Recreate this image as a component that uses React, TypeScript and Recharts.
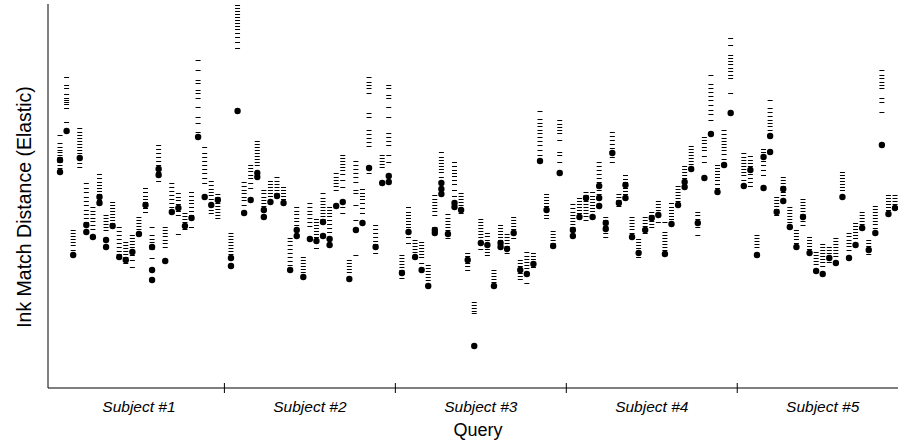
import React from 'react';
import { ScatterChart, Scatter, XAxis, YAxis } from 'recharts';

// each subject has 25 queries; one empty slot separates subjects
const subjects = ['Subject #1', 'Subject #2', 'Subject #3', 'Subject #4', 'Subject #5'];
const SLOTS = 26;

// elastic ink-match distances of the ranked candidates (dashes), per query
const s1Ranks = [
  [253, 245, 241, 238, 236, 233, 231, 226, 223, 220],
  [311, 303, 300, 294, 290, 288, 286, 284, 280, 266],
  [158, 155, 152, 149, 146, 143, 138],
  [260, 256, 253, 250, 247, 244, 241, 238, 235, 225, 221],
  [205, 200, 196, 191, 187, 183, 178, 174, 170, 166],
  [181, 177, 174, 170, 167, 163, 159],
  [214, 210, 206, 203, 200, 197, 194, 188],
  [173, 170, 167, 164, 161, 158],
  [186, 183, 180, 177, 174, 171, 168, 165],
  [161, 157, 153, 149, 145, 141, 137, 134],
  [146, 143, 140, 137, 134, 131, 125],
  [153, 150, 147, 144, 141, 138, 133, 128, 121],
  [171, 168, 165, 162, 159, 156],
  [200, 196, 192, 189, 186, 180, 176],
  [161, 153, 149, 146, 143, 139, 130],
  [243, 239, 235, 231, 227, 223, 216, 207],
  [161, 158, 155, 152, 148, 145, 141],
  [205, 201, 197, 193, 189, 185, 181],
  [195, 191, 188, 184, 177, 173, 154],
  [175, 172, 169, 166, 159],
  [196, 192, 188, 185, 181, 177, 173, 161],
  [328, 318, 308, 305, 298, 295, 290, 281, 271, 265, 256],
  [241, 235, 231, 227, 223, 219, 215, 210, 205],
  [207, 203, 199, 196, 193, 189, 178, 175],
  [194, 191, 185, 182, 179, 176, 173, 170],
];
const s2Ranks = [
  [155, 152, 149, 146, 143, 140, 137, 134],
  [383, 380, 377, 374, 371, 368, 365, 362, 359, 355, 351, 346, 340],
  [206, 202, 198, 195, 191, 188, 183],
  [223, 220, 217, 213, 210, 205, 200],
  [247, 244, 241, 238, 235, 232, 229, 226, 223],
  [198, 195, 191, 188, 185, 182],
  [207, 204, 201, 198, 195, 192],
  [211, 207, 204, 201, 198, 195],
  [201, 198, 195, 192, 189],
  [150, 147, 143, 139, 135, 131, 127, 123],
  [181, 177, 174, 170, 167, 163],
  [131, 128, 125, 122, 119, 116],
  [185, 181, 177, 174, 170, 166, 162],
  [169, 166, 163, 160, 157, 154, 151, 140],
  [195, 190, 187, 184, 181, 178, 175, 172, 169],
  [181, 178, 175, 172, 168, 164, 160, 156],
  [215, 211, 208, 205, 202, 198],
  [233, 230, 227, 224, 221, 218, 214, 208, 201, 181, 175],
  [128, 125, 122, 119, 116],
  [227, 223, 219, 215, 211, 206, 198, 195, 183, 168, 133],
  [199, 195, 192, 189, 185, 180, 175],
  [311, 306, 303, 300, 295, 275, 271, 258, 254, 250, 246, 242, 215],
  [163, 159, 155, 151, 147, 144, 135],
  [233, 230, 227, 224, 221],
  [303, 300, 293, 290, 281, 271, 255, 251, 247, 243, 233, 226],
];
const s3Ranks = [
  [133, 130, 127, 124, 121, 118, 110],
  [181, 176, 173, 170, 167, 164, 161, 151, 145],
  [148, 145, 142, 139, 136],
  [146, 143, 140, 137, 134, 131, 125],
  [123, 120, 117, 114, 111, 108],
  [193, 189, 186, 183, 180, 177, 173, 161],
  [236, 231, 228, 225, 222, 219, 216, 211],
  [174, 170, 167, 164, 161, 158, 150],
  [226, 222, 218, 215, 212, 208, 204, 198, 192],
  [195, 192, 189, 186, 183, 175],
  [135, 132, 129, 125, 122, 118],
  [86, 83, 80, 77, 75],
  [169, 166, 163, 160, 157, 154, 151, 139],
  [155, 152, 148, 145, 139, 136, 133],
  [118, 115, 112, 109, 106],
  [163, 160, 157, 154, 151, 148],
  [154, 151, 148, 145, 142, 135],
  [171, 168, 165, 162, 159, 150],
  [128, 125, 122, 115, 112, 109],
  [136, 132, 129, 126, 123, 120, 105],
  [135, 132, 129, 126, 121],
  [277, 269, 265, 262, 258, 255, 251, 247, 243, 238, 233],
  [194, 191, 188, 185, 182, 173, 170],
  [157, 154, 151, 148, 145],
  [268, 264, 261, 258, 255, 248, 236, 233, 226],
];
const s4Ranks = [
  [184, 180, 176, 173, 170, 167, 164, 161],
  [190, 187, 184, 181, 178, 175],
  [196, 193, 187, 184, 181, 178, 175, 172, 168],
  [196, 192, 189, 186, 183, 180, 177],
  [226, 222, 218, 214, 210, 206, 198, 194],
  [171, 168, 162, 155, 151],
  [256, 252, 248, 244, 240, 237, 231, 226],
  [194, 191, 188, 182],
  [213, 209, 206, 200, 197, 194],
  [171, 168, 165, 162, 159, 155],
  [149, 146, 143, 140, 137, 131],
  [171, 168, 165, 162, 155],
  [176, 173, 167, 164, 161],
  [187, 184, 181, 178, 175, 166],
  [166, 156, 153, 150, 147, 144, 141, 138],
  [185, 181, 178, 175, 172, 169],
  [202, 199, 196, 193, 190, 187],
  [222, 219, 216, 213, 210],
  [242, 239, 236, 233, 230, 227, 224],
  [176, 173, 169, 161, 153],
  [251, 248, 245, 241, 238, 232, 226],
  [313, 304, 300, 296, 292, 288, 283, 278, 274, 268],
  [223, 220, 217, 214, 211, 208, 204, 200],
  [258, 254, 250, 247, 244, 241, 238, 234, 229],
  [350, 343, 333, 330, 327, 324, 320, 317, 313, 310, 295],
];
const s5Ranks = [
  [235, 231, 228, 225, 222, 219, 216, 213, 208],
  [232, 228, 225, 222, 214, 210, 206, 202],
  [153, 150, 147, 144, 141],
  [239, 236, 233, 227, 223, 218, 213],
  [288, 280, 276, 272, 268, 265, 262, 258],
  [191, 188, 185, 182, 179, 173],
  [211, 208, 205, 202, 196, 193],
  [181, 178, 175, 172, 169, 166],
  [158, 155, 152, 149, 145],
  [189, 186, 183, 180, 177, 174, 167, 163],
  [151, 148, 145, 142, 139],
  [136, 133, 130, 127, 124],
  [144, 141, 138, 135, 132, 129, 126, 122],
  [141, 138, 135, 132, 126],
  [150, 147, 144, 141, 138, 135, 132],
  [216, 213, 210, 207, 204, 201, 198],
  [155, 152, 148, 145, 142, 138],
  [165, 162, 159, 156, 153, 150],
  [176, 173, 170, 167, 164],
  [148, 145, 142, 134],
  [182, 179, 176, 173, 170, 167, 164, 160],
  [318, 313, 310, 306, 303, 300, 290, 286, 276],
  [193, 190, 187, 184, 181, 178],
  [193, 190, 187, 184],
];

// distances of the true matches (filled dots), per query
const s1Matches = [
  [228, 216], [257], [133], [230], [163, 156], [151], [191, 185], [148, 141], [162], [131],
  [128], [136], [154], [183], [141, 118, 108], [219, 213], [127], [176], [180], [162],
  [170], [251], [191], [183], [188],
];
const s2Matches = [
  [130, 122], [277], [175], [188], [215, 211], [178, 171], [186], [192], [185], [118],
  [158, 152], [111], [149], [147], [166, 152], [149, 143], [182], [186], [109], [158],
  [165], [220], [141], [205], [212, 206],
];
const s3Matches = [
  [115], [156], [131], [118], [102], [158, 155], [205, 199, 194], [154], [185, 181], [178],
  [128], [42], [145], [143], [102], [145, 141], [139], [155], [118], [114],
  [124], [227], [178], [142], [215],
];
const s4Matches = [
  [158, 152], [171], [190], [171], [202, 190, 182], [165, 159], [235], [185], [203, 190], [151],
  [135], [158], [170], [173], [134], [164], [183], [206, 201], [219], [165],
  [210], [254], [196], [223], [275],
];
const s5Matches = [
  [202], [218], [133], [231, 200], [252, 236], [176], [199, 187], [161], [141], [171],
  [135], [117], [114], [130], [125], [191], [130], [143], [160], [138],
  [155], [243], [174], [180],
];

const allRanks = [s1Ranks, s2Ranks, s3Ranks, s4Ranks, s5Ranks];
const allMatches = [s1Matches, s2Matches, s3Matches, s4Matches, s5Matches];

const toPoints = (groups: number[][][]) =>
  groups.flatMap((subject, s) =>
    subject.flatMap((query, j) => query.map((dist) => ({ slot: s * SLOTS + j, dist })))
  );

const rankPoints = toPoints(allRanks);
const matchPoints = toPoints(allMatches);

const labelTicks = subjects.map((_, s) => s * SLOTS + 12);
const boundaryTicks = subjects.slice(1).map((_, s) => (s + 1) * SLOTS - 1);

const FONT = 'Arial, "Liberation Sans", Helvetica, sans-serif';

const SubjectTick = (props: any) => {
  const { x, y, payload } = props;
  const v = payload.value;
  if (boundaryTicks.includes(v)) {
    return <line x1={x} x2={x} y1={y - 5} y2={y + 5} stroke="#000" strokeWidth={1} />;
  }
  const idx = labelTicks.indexOf(v);
  return (
    <text x={x} y={y + 24} textAnchor="middle" fontStyle="italic" fontSize={15.5} fontFamily={FONT} fill="#000">
      {subjects[idx]}
    </text>
  );
};

// snap the 1px dash to the pixel grid so it stays dark
const Dash = (props: any) => {
  const y = Math.round(props.cy) + 0.5;
  return <line x1={props.cx - 2.5} x2={props.cx + 2.5} y1={y} y2={y} stroke="#000" strokeWidth={1} />;
};

const Dot = (props: any) => <circle cx={props.cx} cy={props.cy} r={3.2} fill="#000" />;

export default function App() {
  return (
    <div style={{ position: 'absolute', left: 0, top: 0, background: '#fff' }}>
      <ScatterChart width={898} height={440} margin={{ top: 4, right: 0, bottom: 0, left: 0 }}>
        <XAxis
          type="number"
          dataKey="slot"
          domain={[-1.83, 127.45]}
          allowDataOverflow
          ticks={[...labelTicks, ...boundaryTicks].sort((a, b) => a - b)}
          interval={0}
          tick={<SubjectTick />}
          tickLine={false}
          tickSize={0}
          tickMargin={0}
          height={52}
          axisLine={{ stroke: '#000', strokeWidth: 1 }}
          label={() => (
            <text x={478} y={436} textAnchor="middle" fontSize={18} fontFamily={FONT} fill="#000">
              Query
            </text>
          )}
        />
        <YAxis
          type="number"
          dataKey="dist"
          domain={[0, 384]}
          allowDataOverflow
          tick={false}
          tickLine={false}
          width={48}
          axisLine={{ stroke: '#000', strokeWidth: 1 }}
          label={() => (
            <text
              x={31}
              y={207}
              transform="rotate(-90 31 207)"
              textAnchor="middle"
              fontSize={19.5}
              fontFamily={FONT}
              fill="#000"
            >
              Ink Match Distance (Elastic)
            </text>
          )}
        />
        <Scatter data={rankPoints} shape={<Dash />} isAnimationActive={false} />
        <Scatter data={matchPoints} shape={<Dot />} isAnimationActive={false} />
      </ScatterChart>
    </div>
  );
}
